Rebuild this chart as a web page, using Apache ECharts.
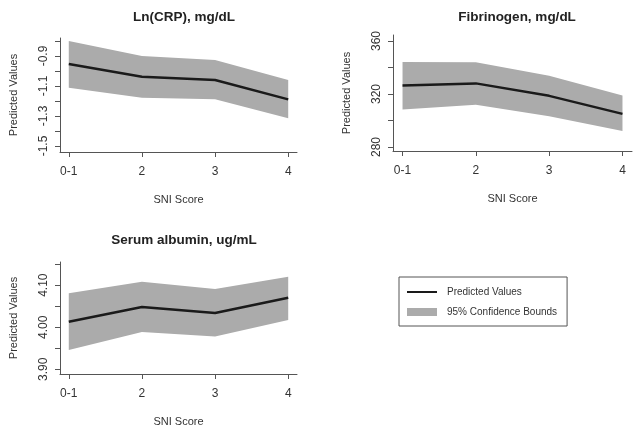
<!DOCTYPE html>
<html><head><meta charset="utf-8">
<script src="https://cdn.jsdelivr.net/npm/echarts@6/dist/echarts.min.js"></script>
<style>html,body{margin:0;padding:0;background:#fff}#c{width:638px;height:434px}</style>
</head><body><div id="c"></div>
<script>
// ---- data ----
const xCats = ['0-1', '2', '3', '4'];
const xPos = [0, 1, 2, 3];

const crpPred  = [-0.953, -1.038, -1.060, -1.189];
const crpUpper = [-0.800, -0.900, -0.927, -1.060];
const crpLower = [-1.111, -1.178, -1.189, -1.315];
const crpTicks = [-1.5, -1.4, -1.3, -1.2, -1.1, -1.0, -0.9, -0.8];
const crpLabels = [-1.5, -1.3, -1.1, -0.9];

const fibPred  = [326.4, 328.0, 318.6, 305.0];
const fibUpper = [344.1, 344.0, 333.7, 318.9];
const fibLower = [308.3, 311.8, 303.2, 292.0];
const fibTicks = [280, 300, 320, 340, 360];
const fibLabels = [280, 320, 360];

const albPred  = [4.013, 4.048, 4.034, 4.070];
const albUpper = [4.081, 4.108, 4.091, 4.120];
const albLower = [3.946, 3.989, 3.978, 4.017];
const albTicks = [3.90, 3.95, 4.00, 4.05, 4.10, 4.15];
const albLabels = [3.90, 4.00, 4.10];

const titles = ['Ln(CRP), mg/dL', 'Fibrinogen, mg/dL', 'Serum albumin, ug/mL'];
const seriesNames = ['Predicted Values', '95% Confidence Bounds'];

// ---- styling ----
const FONT = '"Liberation Sans", Arial, sans-serif';
const AX = '#555';
const TXT = '#333';
const BAND = '#ababab';
const LINE = '#1a1a1a';

const panels = [
  {grid: {left: 60, right: 341, top: 38, bottom: 282}, xmin: -0.12, xmax: 3.12, ymin: -1.54, ymax: -0.78,
   pred: crpPred, up: crpUpper, lo: crpLower, ticks: crpTicks, labels: crpLabels, fmt: v => v.toFixed(1),
   title: {cx: 179, top: 5}},
  {grid: {left: 393, right: 6, top: 35, bottom: 283}, xmin: -0.13, xmax: 3.13, ymin: 277, ymax: 364.5,
   pred: fibPred, up: fibUpper, lo: fibLower, ticks: fibTicks, labels: fibLabels, fmt: v => String(v),
   title: {cx: 512, top: 5}},
  {grid: {left: 60, right: 341, top: 262, bottom: 60}, xmin: -0.12, xmax: 3.12, ymin: 3.889, ymax: 4.155,
   pred: albPred, up: albUpper, lo: albLower, ticks: albTicks, labels: albLabels, fmt: v => v.toFixed(2),
   title: {cx: 179, top: 228}}
];

const option = {
  animation: false,
  backgroundColor: '#fff',
  textStyle: {fontFamily: FONT},
  title: panels.map((p, i) => ({
    text: titles[i], left: p.title.cx, top: p.title.top, textAlign: 'center',
    textStyle: {fontFamily: FONT, fontSize: 13.5, fontWeight: 'bold', color: '#222'}
  })),
  grid: panels.map(p => Object.assign({containLabel: false}, p.grid)),
  xAxis: panels.map((p, i) => ({
    gridIndex: i, type: 'value', min: p.xmin, max: p.xmax,
    axisLine: {show: true, onZero: false, lineStyle: {color: AX, width: 1}},
    axisTick: {show: true, customValues: xPos, length: 5, lineStyle: {color: AX}},
    axisLabel: {customValues: xPos, formatter: v => xCats[xPos.indexOf(Math.round(v))],
      margin: 14, fontSize: 12, color: TXT, fontFamily: FONT},
    splitLine: {show: false},
    name: 'SNI Score', nameLocation: 'middle', nameGap: 42,
    nameTextStyle: {fontSize: 11, color: TXT, fontFamily: FONT}
  })),
  yAxis: panels.map((p, i) => ({
    gridIndex: i, type: 'value', min: p.ymin, max: p.ymax,
    axisLine: {show: true, onZero: false, lineStyle: {color: AX, width: 1}},
    axisTick: {show: true, customValues: p.ticks, length: 5, lineStyle: {color: AX}},
    axisLabel: {customValues: p.labels, formatter: p.fmt, rotate: 90,
      margin: 10, fontSize: 12, color: TXT, fontFamily: FONT},
    splitLine: {show: false},
    name: 'Predicted Values', nameLocation: 'middle', nameGap: 41,
    nameTextStyle: {fontSize: 11, color: TXT, fontFamily: FONT}
  })),
  legend: {
    left: 399, top: 277, orient: 'vertical',
    padding: [10, 10, 9, 8], itemGap: 10, itemWidth: 30, itemHeight: 8,
    borderColor: '#555', borderWidth: 1,
    textStyle: {fontSize: 10, color: TXT, fontFamily: FONT, padding: [0, 0, 0, 5]},
    selectedMode: false,
    data: [
      {name: seriesNames[0], icon: 'path://M0,0H30V2H0Z'},
      {name: seriesNames[1], icon: 'rect'}
    ]
  },
  series: []
};

panels.forEach((p, i) => {
  option.series.push({
    name: seriesNames[1], type: 'custom', xAxisIndex: i, yAxisIndex: i, z: 1,
    itemStyle: {color: BAND},
    encode: {x: 0, y: [1, 2]},
    data: xPos.map((x, k) => [x, p.lo[k], p.up[k]]),
    renderItem: function (params, api) {
      if (params.dataIndex !== 0) return null;
      const pts = [];
      for (let k = 0; k < xPos.length; k++) pts.push(api.coord([xPos[k], p.up[k]]));
      for (let k = xPos.length - 1; k >= 0; k--) pts.push(api.coord([xPos[k], p.lo[k]]));
      return {type: 'polygon', shape: {points: pts}, style: {fill: BAND, stroke: null}};
    }
  });
  option.series.push({
    name: seriesNames[0], type: 'line', xAxisIndex: i, yAxisIndex: i, z: 3,
    symbol: 'none', showSymbol: false,
    itemStyle: {color: LINE},
    lineStyle: {color: LINE, width: 2.5},
    data: xPos.map((x, k) => [x, p.pred[k]])
  });
});

const chart = echarts.init(document.getElementById('c'), null, {renderer: 'canvas'});
chart.setOption(option);
</script></body></html>
